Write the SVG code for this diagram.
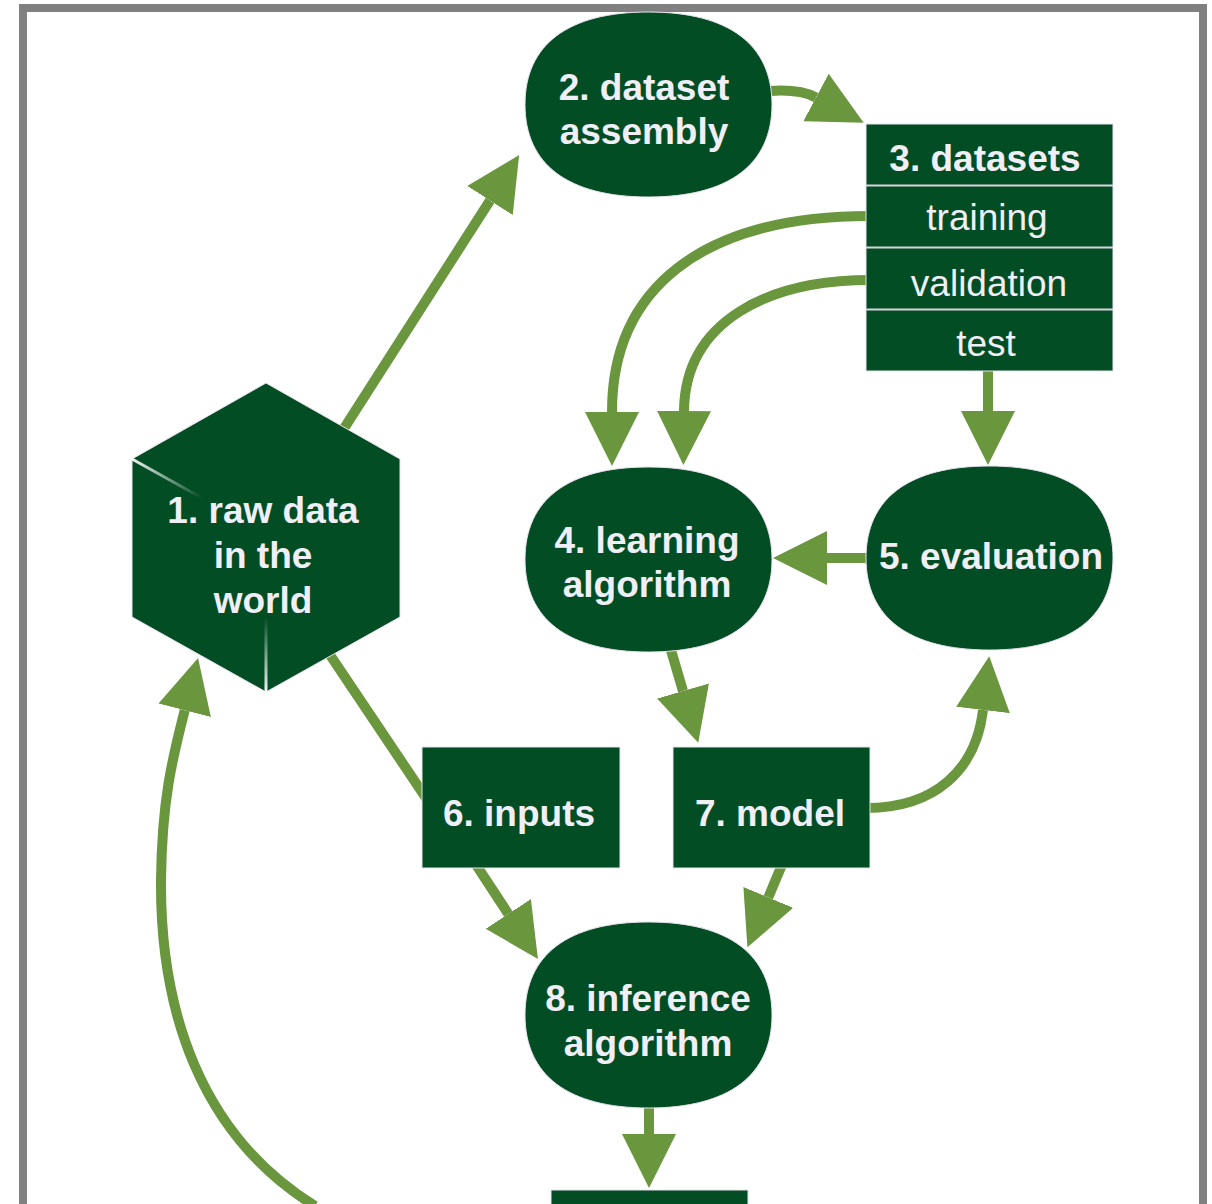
<svg xmlns="http://www.w3.org/2000/svg" width="1212" height="1204" viewBox="0 0 1212 1204">
<defs>
<style>
.node{fill:#034d24;stroke:#e8e2ee;stroke-width:1}
.conn{fill:none;stroke:#6a963e;stroke-width:10}
.lbl{font-family:"Liberation Sans",Arial,sans-serif;font-size:37px;font-weight:bold;fill:#f0eef6;text-anchor:middle}
.row{font-family:"Liberation Sans",Arial,sans-serif;font-size:37px;fill:#f0eef6;text-anchor:middle}
.sep{stroke:#d8d4de;stroke-width:2}
</style>
<marker id="ah" markerUnits="userSpaceOnUse" markerWidth="60" markerHeight="60" viewBox="0 -30 60 60" refX="0" refY="0" orient="auto">
<path d="M0,-27 L54,0 L0,27 z" fill="#6a963e"/>
</marker>
<linearGradient id="hl1" gradientUnits="userSpaceOnUse" x1="132" y1="459" x2="202" y2="498">
<stop offset="0" stop-color="#ffffff" stop-opacity="0.95"/>
<stop offset="1" stop-color="#ffffff" stop-opacity="0"/>
</linearGradient>
<linearGradient id="hl2" gradientUnits="userSpaceOnUse" x1="266" y1="692" x2="266" y2="617">
<stop offset="0" stop-color="#ffffff" stop-opacity="0.95"/>
<stop offset="1" stop-color="#ffffff" stop-opacity="0"/>
</linearGradient>
</defs>
<rect x="0" y="0" width="1212" height="1204" fill="#ffffff"/>
<rect x="23" y="8" width="1180" height="1260" fill="none" stroke="#808080" stroke-width="8"/>

<g id="connectors">
<path class="conn" d="M334,444 L490,200.5" marker-end="url(#ah)"/>
<path class="conn" d="M770,91 Q800,89 816,97.5" marker-end="url(#ah)"/>
<path class="conn" d="M870,216 C700,216 612,290 612,412" marker-end="url(#ah)"/>
<path class="conn" d="M870,280 C770,280 685,320 684,411" marker-end="url(#ah)"/>
<path class="conn" d="M988,371 L988,411" marker-end="url(#ah)"/>
<path class="conn" d="M870,558 L827,558" marker-end="url(#ah)"/>
<path class="conn" d="M668,640 L683,691" marker-end="url(#ah)"/>
<path class="conn" d="M866,808 C935,808 976,770 983,710" marker-end="url(#ah)"/>
<path class="conn" d="M784,860 L768.3,897.4" marker-end="url(#ah)"/>
<path class="conn" d="M470,855.5 L508.3,913.9" marker-end="url(#ah)"/>
<path class="conn" d="M649,1105 L649,1134" marker-end="url(#ah)"/>
<path class="conn" d="M315,1206 C200,1135 160,1010 161,880 C162,800 172,760 184.7,710.3" marker-end="url(#ah)"/>
<path class="conn" d="M320,640 L430,804"/>
</g>

<g id="node1">
<polygon class="node" points="266,383 400,459 400,617 266,692 132,617 132,459"/>
<line x1="132" y1="459" x2="202" y2="498" stroke="url(#hl1)" stroke-width="3"/>
<line x1="266" y1="692" x2="266" y2="617" stroke="url(#hl2)" stroke-width="3"/>
<text class="lbl" x="263" y="523">1. raw data</text>
<text class="lbl" x="263" y="568">in the</text>
<text class="lbl" x="263" y="613">world</text>
</g>

<g id="node2">
<path class="node" d="M648.5,12 C728.8,12 772,44.4 772,104.5 C772,164.6 728.8,197 648.5,197 C568.2,197 525,164.6 525,104.5 C525,44.4 568.2,12 648.5,12 Z"/>
<text class="lbl" x="644" y="100">2. dataset</text>
<text class="lbl" x="644" y="144">assembly</text>
</g>

<g id="node3">
<rect class="node" x="866" y="124" width="247" height="247"/>
<line class="sep" x1="866" y1="185.5" x2="1113" y2="185.5"/>
<line class="sep" x1="866" y1="247.5" x2="1113" y2="247.5"/>
<line class="sep" x1="866" y1="309.5" x2="1113" y2="309.5"/>
<text class="lbl" x="985" y="171">3. datasets</text>
<text class="row" x="987" y="230">training</text>
<text class="row" x="989" y="296">validation</text>
<text class="row" x="986" y="356">test</text>
</g>

<g id="node4">
<path class="node" d="M648.5,467 C728.8,467 772,499.4 772,559.5 C772,619.6 728.8,652 648.5,652 C568.2,652 525,619.6 525,559.5 C525,499.4 568.2,467 648.5,467 Z"/>
<text class="lbl" x="647" y="553">4. learning</text>
<text class="lbl" x="647" y="597">algorithm</text>
</g>

<g id="node5">
<path class="node" d="M989.5,466 C1069.8,466 1113,498.2 1113,558 C1113,617.8 1069.8,650 989.5,650 C909.2,650 866,617.8 866,558 C866,498.2 909.2,466 989.5,466 Z"/>
<text class="lbl" x="991" y="569">5. evaluation</text>
</g>

<g id="node6">
<rect class="node" x="422" y="747" width="198" height="121"/>
<text class="lbl" x="519" y="826">6. inputs</text>
</g>

<g id="node7">
<rect class="node" x="673" y="747" width="197" height="121"/>
<text class="lbl" x="770" y="826">7. model</text>
</g>

<g id="node8">
<path class="node" d="M648.5,922 C728.8,922 772,954.5 772,1015 C772,1075.5 728.8,1108 648.5,1108 C568.2,1108 525,1075.5 525,1015 C525,954.5 568.2,922 648.5,922 Z"/>
<text class="lbl" x="648" y="1011">8. inference</text>
<text class="lbl" x="648" y="1056">algorithm</text>
</g>

<g id="node9">
<rect class="node" x="551" y="1190" width="197" height="40"/>
</g>
</svg>
